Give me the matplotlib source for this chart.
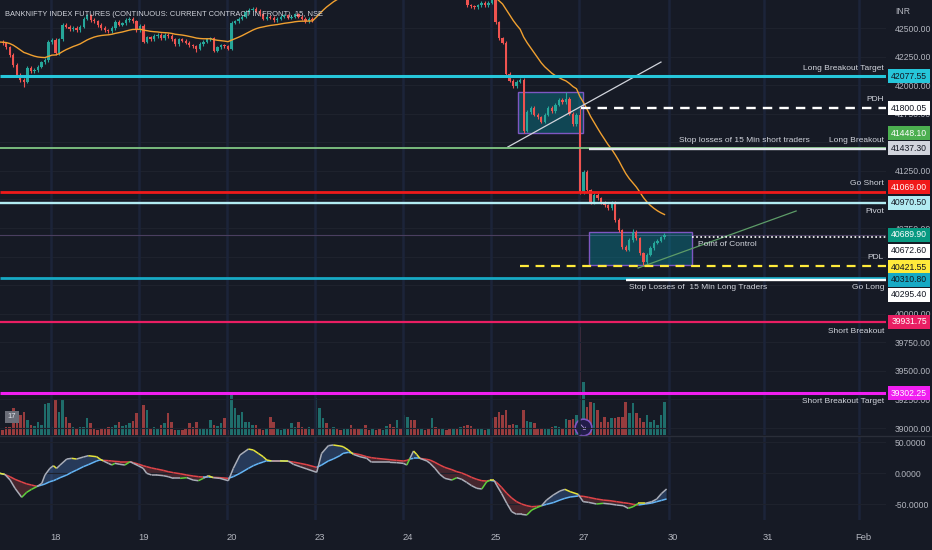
import matplotlib
matplotlib.use("Agg")
import matplotlib.pyplot as plt
import matplotlib.transforms as mtransforms
from matplotlib import font_manager
from matplotlib.patches import Rectangle
from matplotlib.collections import LineCollection
from matplotlib.lines import Line2D
from matplotlib.ticker import FormatStrFormatter
import numpy as np

# ---------------- data ----------------
title = "BANKNIFTY INDEX FUTURES (CONTINUOUS: CURRENT CONTRACT IN FRONT), 15, NSE"

first_bar = 10          # 15 min bars, 25 per session, bar 0 = first bar of the 17th
first_open = 42380
closes = [
    42377, 42365, 42330, 42264, 42176, 42089, 42045, 42030, 42150, 42120,
    42132, 42160, 42200, 42220, 42377, 42395, 42280, 42400, 42526, 42510,
    42490, 42500, 42480, 42510, 42580, 42610, 42570, 42560, 42526, 42500,
    42480, 42470, 42500, 42552, 42530, 42540, 42570, 42580, 42560, 42482,
    42520, 42380, 42420, 42400, 42430, 42440, 42410, 42440, 42430, 42400,
    42360, 42400, 42390, 42370, 42350, 42340, 42320, 42360, 42380, 42400,
    42410, 42300, 42330, 42350, 42340, 42320, 42545, 42560, 42580, 42600,
    42640, 42660, 42670, 42650, 42620, 42580, 42600, 42590, 42570, 42580,
    42600, 42610, 42590, 42600, 42620, 42600, 42580, 42560, 42580, 42570,
    42950, 43000, 43040, 43020, 42990, 43010, 42980, 42960, 42990, 43010,
    42980, 42950, 42930, 42960, 42940, 42920, 42950, 42930, 42900, 42920,
    42940, 42910, 42890, 42920, 42900, 42930, 42980, 42950, 42900, 42880,
    42900, 42870, 42850, 42880, 42860, 42830, 42850, 42820, 42800, 42810,
    42790, 42800, 42780, 42700, 42690, 42680, 42700, 42720, 42700, 42720,
    42745, 42550, 42410, 42370, 42100, 42040, 41990, 42030, 42045, 41600,
    41765, 41800, 41740, 41720, 41680, 41740, 41800, 41770, 41830, 41870,
    41850, 41880, 41750, 41660, 41740, 41060, 41240, 41080, 40977, 41040,
    41010, 40970, 40950, 40925, 40970, 40820, 40730, 40584, 40560, 40645,
    40715, 40660, 40530, 40450, 40515, 40575, 40620, 40640, 40670, 40689.9,
]
gap_open = {100: 42900}
high_fix = {171: 41940, 175: 41800.05, 190: 40740}
low_fix = {17: 41985, 66: 42290, 159: 41581, 193: 40421.55}

volume = [
    5, 5, 8, 8, 27, 24, 20, 23, 15, 10,
    9, 13, 10, 31, 32, 8, 35, 23, 35, 18,
    12, 8, 7, 8, 8, 17, 12, 6, 5, 6,
    7, 8, 8, 10, 13, 9, 10, 12, 14, 22,
    6, 30, 25, 7, 8, 6, 10, 12, 22, 13,
    5, 5, 5, 6, 12, 8, 13, 6, 6, 7,
    15, 10, 9, 12, 17, 5, 43, 27, 20, 23,
    13, 13, 10, 10, 6, 5, 6, 18, 13, 6,
    5, 6, 7, 12, 8, 13, 8, 7, 8, 6,
    37, 27, 17, 12, 7, 8, 6, 5, 6, 7,
    10, 6, 7, 6, 10, 5, 6, 5, 6, 5,
    9, 11, 8, 15, 6, 20, 18, 15, 15, 6,
    7, 5, 6, 17, 8, 7, 6, 5, 6, 7,
    6, 8, 9, 10, 9, 6, 6, 6, 5, 6,
    17, 18, 23, 20, 25, 10, 11, 10, 7, 25,
    14, 13, 12, 6, 7, 6, 6, 8, 9, 8,
    7, 16, 15, 16, 20, 108, 53, 28, 33, 32,
    25, 13, 18, 13, 17, 17, 18, 18, 33, 22,
    32, 22, 17, 13, 20, 13, 15, 10, 20, 33,
]

ema_seed = 42377
ema_span = 25

level_names = ["Long Breakout Target", "PDH", "Long Breakout",
               "Stop losses of 15 Min short traders", "Go Short", "Pivot",
               "Point of Control", "PDL", "Go Long",
               "Stop Losses of  15 Min Long Traders", "Short Breakout",
               "Short Breakout Target"]
level_values = [42077.55, 41800.05, 41448.10, 41437.30, 41069.00, 40970.50,
                40672.60, 40421.55, 40310.80, 40295.40, 39931.75, 39302.25]
last_price = 40689.90

price_grid = list(range(39000, 42501, 250))
price_ticks = [42500, 42250, 42000, 41750, 41250, 40750, 40000, 39750, 39500, 39250, 39000]

box_bars = [(157.4, 175.8), (177.6, 206.8)]
box_prices = [(41581, 41940), (40426, 40715)]
trend_bars = [(154.5, 198.0), (191.5, 236.4)]
trend_prices = [(41459, 42202), (40400, 40899)]

date_pos = [26, 51, 76, 101, 126, 151, 176, 201.5, 228.5, 255.5]
date_labels = ["18", "19", "20", "23", "24", "25", "27", "30", "31", "Feb"]

osc_bar = [10.2, 11.6, 13.1, 14.5, 16.4, 17.8, 19.2, 20.7, 22.1, 23.0, 24.4, 25.4,
           26.3, 27.3, 29.2, 30.6, 32.0, 33.9, 35.3, 37.7, 38.6, 39.6, 41.0, 42.0,
           42.9, 44.3, 45.7, 47.2, 48.1, 49.5, 50.9, 51.9, 53.3, 54.7, 56.6, 58.0,
           59.5, 61.4, 63.3, 65.1, 66.6, 68.0, 69.4, 70.8, 72.7, 75.1, 76.5, 78.4,
           80.8, 82.2, 83.6, 85.0, 86.0, 87.4, 89.8, 92.1, 93.6, 95.5, 97.4, 100.2,
           101.6, 103.5, 104.9, 106.8, 107.7, 109.2, 110.6, 112.5, 114.4, 115.8,
           117.2, 121.0, 122.9, 124.8, 125.8, 126.7, 127.7, 128.6, 129.5, 131.5,
           132.4, 133.8, 135.2, 136.6, 138.6, 140.0, 141.4, 142.8, 144.2, 145.7,
           147.1, 148.5, 149.4, 150.6, 151.3, 152.7, 154.2, 155.6, 157.0, 158.4,
           159.9, 161.3, 162.7, 164.1, 165.5, 167.4, 169.3, 170.7, 172.2, 174.5,
           175.9, 177.4, 179.7, 181.6, 183.5, 185.4, 187.3, 188.7, 190.1, 191.6,
           193.5, 195.4, 196.8, 198.2, 199.6]
osc_fast = [-0.5, -2.2, -11.3, -24.7, -39.2, -31.2, -26.3, -22.0, -16.7, -3.2, 7.5, 11.8,
            7.5, 12.9, 22.6, 23.7, 22.6, 25.8, 27.9, 26.3, 22.6, 19.4, 15.6, 12.9,
            15.6, 14.0, 12.9, 18.3, 15.6, 11.8, 7.5, -0.5, -3.2, -3.2, -4.3, -5.9,
            -8.6, -8.6, -7.5, -11.3, -12.4, -8.6, -4.3, -7.5, -8.6, -12.4, 7.5, 29.0,
            38.7, 37.1, 31.7, 26.3, 21.0, 19.4, 19.4, 19.4, 14.0, 10.2, 6.5, 1.1,
            31.7, 44.1, 45.2, 43.6, 42.5, 37.1, 30.1, 26.3, 23.7, 17.2,
            17.2, 17.2, 16.7, 15.6, 12.9, 23.7, 35.5, 30.1, 23.7, 19.4,
            15.6, 7.5, -2.2, -8.6, -11.3, -7.5, -10.2, -15.1, -20.4, -24.7,
            -25.8, -14.0, -11.8, -11.8, -19.4, -32.8, -48.9, -62.4, -66.7, -66.7,
            -67.7, -59.7, -55.9, -52.7, -43.6, -35.5, -29.0, -26.3, -30.1, -34.4,
            -46.2, -47.3, -50.0, -48.9, -50.0, -51.6, -52.7, -57.0, -54.3, -48.9,
            -48.9, -46.2, -41.9, -32.8, -25.8]
osc_slow = [-0.5, -2.5, -6.0, -10.2, -14.5, -17.5, -19.4, -21.5, -19.4, -17.7, -14.0, -12.4,
            -10.2, -7.5, -3.2, 1.1, 4.8, 10.2, 13.4, 19.4, 21.0, 20.4, 19.9, 19.4,
            18.8, 18.3, 18.3, 18.3, 16.7, 14.5, 11.8, 10.2, 8.1, 6.5, 4.3, 2.2,
            0.5, -1.1, -3.2, -4.8, -5.9, -6.5, -6.5, -7.0, -7.5, -8.6, -5.9, -0.5,
            7.5, 11.8, 15.1, 17.7, 19.9, 19.9, 19.9, 18.8, 17.7, 15.6, 13.4, 9.1,
            12.9, 19.4, 22.6, 28.0, 31.7, 33.3, 31.7, 29.6, 26.3, 24.7,
            23.7, 21.5, 20.4, 19.4, 20.4, 22.6, 23.7, 23.7, 23.7, 22.0,
            21.0, 17.2, 12.9, 9.1, 5.4, 2.2, 0.0, -3.2, -7.0, -10.2,
            -12.4, -12.9, -11.8, -12.9, -15.1, -23.0, -32.8, -40.3, -46.2, -50.0,
            -52.7, -54.3, -53.8, -52.7, -50.5, -47.8, -43.6, -40.9, -38.7, -37.1,
            -37.6, -39.2, -41.9, -43.6, -44.6, -46.2, -47.8, -48.9, -50.5, -51.6,
            -50.0, -48.4, -46.2, -44.1, -41.9]

# ---------------- look ----------------
BG = "#161a25"
UP = "#26a69a"
DOWN = "#ef5350"
TXT = "#b2b5be"
LBL = "#d1d4dc"

# the chart font is a condensed one; use a narrow face if there is one,
# otherwise Liberation Sans at a smaller size
_have = {f.name for f in font_manager.fontManager.ttflist}
if "Liberation Sans Narrow" in _have:
    NARROW, FS, FT = "Liberation Sans Narrow", 1.0, 1.0
elif "Liberation Sans" in _have:
    NARROW, FS, FT = "Liberation Sans", 0.91, 0.86
else:
    NARROW, FS, FT = "DejaVu Sans", 0.78, 0.76
NARROW = [NARROW, "DejaVu Sans"]

W, H = 932, 550
PLOT_W = 886                       # right price scale starts here
PRICE_TOP, PRICE_BOT = 42745, 38939
PX = (PRICE_TOP - PRICE_BOT) / 435.0   # price units per pixel
XL = (10.23, 261.93)

# name: color, lw, linestyle, start bar, text side, text dy px, tag fc, tag tc, tag shift px
level_style = {
    "Long Breakout Target": ("#26c6da", 2.2, "-", None, "right", -8, "#26c6da", "#131722", 0),
    "PDH": ("#ffffff", 1.7, (0, (4, 3)), 175.3, "right", -9, "#ffffff", "#131722", 0),
    "Long Breakout": ("#81c784", 1.3, "-", None, "right", -8, "#4caf50", "#ffffff", -15),
    "Stop losses of 15 Min short traders": ("#e0e3eb", 1.7, "-", 177.6, 203.1, -8.5, "#d1d4dc", "#131722", -1),
    "Go Short": ("#f01a1a", 2.0, "-", None, "right", -8.5, "#f01a1a", "#ffffff", -4.5),
    "Pivot": ("#b2ebf2", 1.7, "-", None, "right", 9, "#b2ebf2", "#131722", 0),
    "Point of Control": ("#ffffff", 1.2, (0, (1, 1.5)), 206.8, 208.5, 8, "#ffffff", "#131722", 14),
    "PDL": ("#ffeb3b", 1.6, (0, (4, 3)), 158.0, "right", -8.5, "#ffeb3b", "#131722", 1.5),
    "Go Long": ("#17a9c4", 2.0, "-", None, "right", 9, "#17a9c4", "#131722", 1.5),
    "Stop Losses of  15 Min Long Traders": ("#ffffff", 1.7, "-", 188.0, 188.9, 8, "#ffffff", "#131722", 15),
    "Short Breakout": ("#e91e63", 1.6, "-", None, "right", 9.5, "#e91e63", "#ffffff", 0),
    "Short Breakout Target": ("#f01ef0", 2.2, "-", None, "right", 8.5, "#f01ef0", "#ffffff", 0),
}

fig = plt.figure(figsize=(W / 100, H / 100), dpi=100, facecolor=BG)
rect = [0, 115 / H, PLOT_W / W, 435 / H]
axv = fig.add_axes(rect, zorder=0, facecolor=BG)
ax = fig.add_axes(rect, zorder=1)
ax.patch.set_alpha(0)
axo = fig.add_axes([0, 30 / H, PLOT_W / W, 83 / H], facecolor=BG)

# ---------------- candles ----------------
bars = np.arange(first_bar, first_bar + len(closes))
c = np.array(closes, dtype=float)
o = np.empty_like(c)
o[0] = first_open
o[1:] = c[:-1]
for b, v in gap_open.items():
    o[b - first_bar] = v
wick = 14.0
hi = np.maximum(o, c) + wick
lo = np.minimum(o, c) - wick
for b, v in high_fix.items():
    hi[b - first_bar] = v
for b, v in low_fix.items():
    lo[b - first_bar] = v
up = c >= o
cols = np.where(up, UP, DOWN)

ax.vlines(bars, lo, hi, colors=cols, lw=0.8, zorder=2)
ax.bar(bars, np.maximum(np.abs(c - o), 1.2 * PX), bottom=np.minimum(o, c),
       width=0.66, color=cols, linewidth=0, zorder=2)

# moving average (EMA of closes)
alpha = 2.0 / (ema_span + 1)
ema = []
val = ema_seed
for x in c:
    val = val + alpha * (x - val)
    ema.append(val)
ax.plot(bars, ema, color="#f0a030", lw=1.0, zorder=2.5)

# volume overlay
axv.bar(bars, volume, width=0.72, color=cols, alpha=0.6, linewidth=0)
axv.set_ylim(0, 435)
axv.set_xlim(*XL)
axv.axis("off")
axv.plot([175.8], [8], "o", ms=12, mfc="#221c4a", mec="#7e57c2", mew=1.2, zorder=3)
axv.text(175.8, 8, "\u2198", color="#b39ddb", fontsize=7, ha="center", va="center", zorder=4)

# ---------------- drawings ----------------
for (x0, x1), (p0, p1) in zip(box_bars, box_prices):
    ax.add_patch(Rectangle((x0, p0), x1 - x0, p1 - p0, facecolor=(0, 0.74, 0.83, 0.27),
                           edgecolor="#7e57c2", lw=1.0, zorder=1.8))
ax.plot(trend_bars[0], trend_prices[0], color="#d1d4dc", lw=0.9, zorder=3)
ax.plot(trend_bars[1], trend_prices[1], color="#5d9c68", lw=0.9, zorder=3)
ax.axhline(last_price, color="#4b3f60", lw=0.8, zorder=1.5)

LABEL_FS = 6.6 * FS
NUM_FS = 6.8 * FS
trans = mtransforms.blended_transform_factory(ax.transAxes, ax.transData)
for name, value in zip(level_names, level_values):
    color, lw, ls, start, side, dy, fc, tc, shift = level_style[name]
    x0 = XL[0] if start is None else start
    ax.hlines(value, x0, XL[1], colors=color, lw=lw, linestyles=ls, zorder=3)
    ty = value - dy * PX
    if side == "right":
        ax.text(884 / PLOT_W, ty, name, transform=trans, ha="right", va="center",
                color=LBL, fontsize=LABEL_FS, family=NARROW, zorder=6)
    else:
        ax.text(side, ty, name, ha="left", va="center", color=LBL,
                fontsize=LABEL_FS, family=NARROW, zorder=6)

# price tags on the scale
tags = list(zip(level_values, [level_style[n][6] for n in level_names],
                [level_style[n][7] for n in level_names],
                [level_style[n][8] for n in level_names]))
tags.append((last_price, "#089981", "#ffffff", 0))
for value, fc, tc, shift in tags:
    yc = value - shift * PX
    ax.add_patch(Rectangle((888 / PLOT_W, yc - 7 * PX), 42 / PLOT_W, 14 * PX, transform=trans,
                           facecolor=fc, edgecolor="none", clip_on=False, zorder=7))
    ax.text(909 / PLOT_W, yc, f"{value:.2f}", transform=trans, ha="center", va="center",
            color=tc, fontsize=NUM_FS, family=NARROW, zorder=8, clip_on=False)

# ---------------- price axis ----------------
ax.set_xlim(*XL)
ax.set_ylim(PRICE_BOT, PRICE_TOP)
ax.set_yticks(price_ticks)
ax.yaxis.set_major_formatter(FormatStrFormatter("%.2f"))
ax.yaxis.tick_right()
ax.tick_params(axis="y", length=0, pad=6.5, labelcolor=TXT, labelsize=NUM_FS)
ax.tick_params(axis="x", length=0, labelbottom=False)
for lab in ax.get_yticklabels():
    lab.set_family(NARROW)
for p in price_grid:
    ax.axhline(p, color="#1e222d", lw=0.8, zorder=0)
for s in ax.spines.values():
    s.set_visible(False)
for t in date_pos:
    ax.axvline(t - 1.3, color="#1c2439", lw=1.8, zorder=0.5)
    axo.axvline(t - 1.3, color="#1c2439", lw=1.8, zorder=0.5)

# ---------------- oscillator ----------------
ob = np.array(osc_bar)
of = np.array(osc_fast)
osl = np.array(osc_slow)
axo.fill_between(ob, of, osl, where=of >= osl, interpolate=True, color="#5b9cf6",
                 alpha=0.25, linewidth=0)
axo.fill_between(ob, of, osl, where=of < osl, interpolate=True, color="#ef5350",
                 alpha=0.22, linewidth=0)
seg_fast = []
seg_fast_col = []
seg_slow = []
seg_slow_col = []
for i in range(len(ob) - 1):
    above = (of[i] + of[i + 1]) >= (osl[i] + osl[i + 1])
    rising = of[i + 1] > of[i]
    if above and not rising:
        fcol = "#e6e33a"
    elif not above and rising:
        fcol = "#5ed13c"
    else:
        fcol = "#a9adb8"
    seg_fast.append([(ob[i], of[i]), (ob[i + 1], of[i + 1])])
    seg_fast_col.append(fcol)
    seg_slow.append([(ob[i], osl[i]), (ob[i + 1], osl[i + 1])])
    seg_slow_col.append("#64b5f6" if above else "#e04448")
axo.add_collection(LineCollection(seg_slow, colors=seg_slow_col, linewidths=1.1))
axo.add_collection(LineCollection(seg_fast, colors=seg_fast_col, linewidths=1.1))
axo.set_xlim(*XL)
axo.set_ylim(-75.8, 58.1)
axo.set_yticks([50, 0, -50])
axo.yaxis.set_major_formatter(FormatStrFormatter("%.4f"))
axo.yaxis.tick_right()
axo.tick_params(axis="y", length=0, pad=6.5, labelcolor=TXT, labelsize=NUM_FS)
axo.grid(axis="y", color="#1e222d", lw=0.8)
axo.set_xticks(date_pos)
axo.set_xticklabels(date_labels)
axo.tick_params(axis="x", length=0, pad=9, labelcolor=TXT, labelsize=7.4 * FS)
for lab in axo.get_yticklabels() + axo.get_xticklabels():
    lab.set_family(NARROW)
for s in axo.spines.values():
    s.set_visible(False)

# ---------------- frame texts ----------------
fig.add_artist(Line2D([0, 1], [1 - 436 / H] * 2, transform=fig.transFigure,
                      color="#2a2e39", lw=1))
fig.text(5 / W, 1 - 14 / H, title, ha="left", va="center", color=LBL,
         fontsize=6.3 * FT, family=NARROW)
fig.text(895 / W, 1 - 12 / H, "INR", ha="left", va="center", color=TXT,
         fontsize=NUM_FS, family=NARROW)
fig.text(12 / W, 1 - 417 / H, "17", ha="center", va="center", color="#e0e3eb",
         fontsize=6 * FS, family=NARROW,
         bbox=dict(boxstyle="square,pad=0.3", fc="#6a6d78", ec="none"))

fig.savefig("out.png", dpi=100, facecolor=BG)
